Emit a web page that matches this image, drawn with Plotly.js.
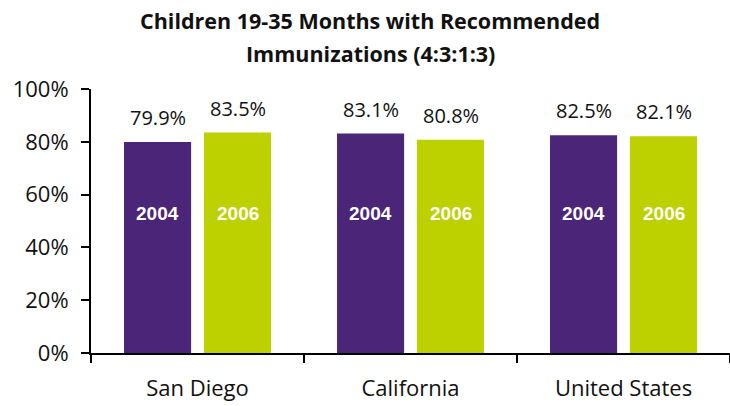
<!DOCTYPE html>
<html>
<head>
<meta charset="utf-8">
<script src="https://cdn.plot.ly/plotly-3.0.1.min.js"></script>
<style>html,body{margin:0;padding:0;background:#fff;}#chart{width:730px;height:406px;}</style>
</head>
<body>
<div id="chart"></div>
<script>
const categories = ["San Diego", "California", "United States"];
const seriesNames = ["2004", "2006"];
const values2004 = [79.9, 83.1, 82.5];
const values2006 = [83.5, 80.8, 82.1];
const yTickVals = [0, 20, 40, 60, 80, 100];
const yTickText = ["0%", "20%", "40%", "60%", "80%", "100%"];
const titleLines = ["Children 19-35 Months with Recommended", "Immunizations (4:3:1:3)"];

const colors = ["#4A2578", "#BDD000"];
const series = [values2004, values2006];
const FONT = "Open Sans, Lato, sans-serif";

const traces = series.map((vals, i) => ({
  type: "bar",
  name: seriesNames[i],
  x: categories,
  y: vals,
  marker: {color: colors[i], line: {width: 0}},
  hoverinfo: "none"
}));

const annotations = [];
series.forEach((vals, i) => {
  categories.forEach((c, j) => {
    // value label above bar
    annotations.push({
      x: c, y: vals[j], xref: "x", yref: "y",
      xshift: (i === 0 ? -40 : 40), yshift: 9,
      yanchor: "bottom",
      text: vals[j].toFixed(1) + "%",
      showarrow: false,
      font: {family: FONT, size: 20, color: "#111"}
    });
    // year label inside bar
    annotations.push({
      x: c, y: 53, xref: "x", yref: "y",
      xshift: (i === 0 ? -40 : 40),
      text: "<b>" + seriesNames[i] + "</b>",
      showarrow: false,
      font: {family: "Liberation Sans, Arial, sans-serif", size: 19, color: "#fff"}
    });
  });
});
titleLines.forEach((t, k) => {
  annotations.push({
    x: 0.437, y: k === 0 ? 1.258 : 1.135, xref: "paper", yref: "paper",
    text: "<b>" + t + "</b>", showarrow: false,
    xanchor: "center", yanchor: "middle",
    font: {family: FONT, size: 21.5, color: "#111"}
  });
});

const layout = {
  width: 730, height: 406,
  margin: {l: 91, r: 0, t: 89, b: 53, pad: 0},
  paper_bgcolor: "#fff", plot_bgcolor: "#fff",
  showlegend: false,
  barmode: "group",
  bargap: 0.25,
  bargroupgap: 0.16,
  xaxis: {
    type: "category",
    showline: true, linecolor: "#000", linewidth: 2,
    ticks: "outside", tickson: "boundaries", ticklen: 8, tickwidth: 2, tickcolor: "#000",
    showgrid: false, zeroline: false,
    tickfont: {family: FONT, size: 22, color: "#111"},
    ticklabelstandoff: 15,
    fixedrange: true
  },
  yaxis: {
    range: [0, 100],
    tickvals: yTickVals, ticktext: yTickText,
    showline: true, linecolor: "#000", linewidth: 2,
    ticks: "outside", ticklen: 8, tickwidth: 2, tickcolor: "#000",
    showgrid: false, zeroline: false,
    tickfont: {family: FONT, size: 22, color: "#111"},
    ticklabelstandoff: 8,
    fixedrange: true
  },
  annotations: annotations,
  font: {family: FONT}
};

Plotly.newPlot("chart", traces, layout, {displayModeBar: false, staticPlot: true});
</script>
</body>
</html>
